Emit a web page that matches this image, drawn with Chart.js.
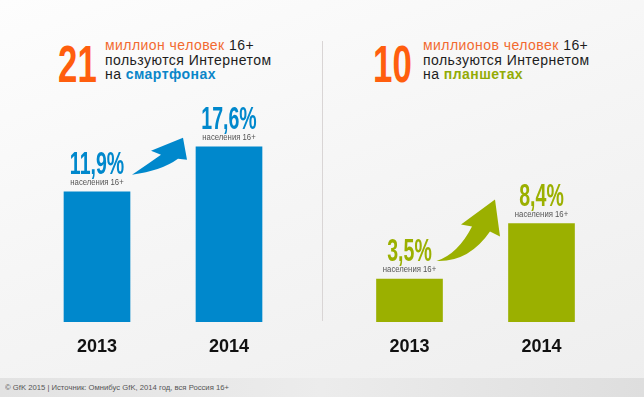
<!doctype html>
<html>

<head>
    <meta charset="utf-8">
    <title>Смартфоны и планшеты</title>
    <script src="https://cdn.jsdelivr.net/npm/chart.js@4.4.0/dist/chart.umd.min.js"></script>
    <style>
    body { margin: 0; }
    #wrap {
        position: relative; width: 644px; height: 397px; overflow: hidden;
        font-family: 'Liberation Sans', Arial, sans-serif;
        background: linear-gradient(160deg, #fdfdfd 0%, #f5f5f5 50%, #eeeeee 100%);
    }
    #foot {
        position: absolute; left: 0; top: 378px; width: 644px; height: 19px;
        background: linear-gradient(90deg, #e2e2e2 0%, #ececec 50%, #dedede 100%);
    }
    #foot span {
        position: absolute; left: 5px; top: 5px; font-size: 8px; color: #555; white-space: nowrap;
        transform: scaleX(0.96); transform-origin: left top;
    }
    #divider {
        position: absolute; left: 322px; top: 41px; width: 1px; height: 280px; background: #d9d5d5;
    }
    canvas { position: absolute; top: 0; }
    .big {
        position: absolute; top: 38px; font-size: 52px; line-height: 52px; font-weight: bold;
        color: #ff5e0e; transform: scaleX(0.67); transform-origin: left top;
    }
    .head {
        position: absolute; top: 38px; font-size: 14px; line-height: 14.5px; color: #1d1d1d;
        letter-spacing: 0.45px; white-space: nowrap;
    }
    .head .o { color: #f26a30; }
    .head .b { color: #0a86c9; font-weight: bold; }
    .head .g { color: #93ab05; font-weight: bold; }
    </style>
</head>

<body>
    <div id="wrap">
        <div id="foot"><span>© GfK 2015 | Источник: Омнибус GfK, 2014 год, вся Россия 16+</span></div>
        <div id="divider"></div>
        <div class="big" style="left:58px;">21</div>
        <div class="head" style="left:105px;"><span class="o">миллион человек</span> 16+<br>пользуются Интернетом<br>на <span class="b">смартфонах</span></div>
        <div class="big" style="left:373px;">10</div>
        <div class="head" style="left:423px;"><span class="o">миллионов человек</span> 16+<br>пользуются Интернетом<br>на <span class="g">планшетах</span></div>
        <canvas id="phones" width="322" height="397" style="left:0;"></canvas>
        <canvas id="tablets" width="322" height="397" style="left:322px;"></canvas>
    </div>
    <script>
    // data
    var years = ['2013', '2014'];
    var smartphoneShare = [11.9, 17.6];   // % of population 16+
    var tabletShare = [3.5, 8.4];
    var subLabel = 'населения 16+';

    var BLUE = '#0088cc';
    var GREEN = '#9bb000';

    // value labels + the swoosh arrow between the two bars
    var labelPlugin = {
        id: 'barLabels',
        afterDatasetsDraw: function(chart, args, opts) {
            var ctx = chart.ctx;
            var ds = chart.data.datasets[0];
            var bars = chart.getDatasetMeta(0).data;
            bars.forEach(function(bar, i) {
                var txt = ds.data[i].toFixed(1).replace('.', ',') + '%';
                ctx.save();
                ctx.translate(bar.x, bar.y - 18);
                ctx.scale(0.63, 1);
                ctx.font = 'bold 31px "Liberation Sans", Arial';
                ctx.textAlign = 'center';
                ctx.textBaseline = 'alphabetic';
                ctx.fillStyle = ds.backgroundColor;
                ctx.fillText(txt, 0, 0);
                ctx.restore();

                ctx.save();
                ctx.translate(bar.x, bar.y - 6.5);
                ctx.scale(0.86, 1);
                ctx.font = '9px "Liberation Sans", Arial';
                ctx.textAlign = 'center';
                ctx.fillStyle = '#555';
                ctx.fillText(subLabel, 0, 0);
                ctx.restore();
            });

            // arrow, positioned from the bars
            var a = opts.arrow;
            var T = { x: bars[0].x + a.tail[0], y: bars[0].y + a.tail[1] };
            var P = { x: bars[1].x + a.tip[0], y: bars[1].y + a.tip[1] };
            function rel(o, d) { return { x: o.x + d[0], y: o.y + d[1] }; }
            var lw = rel(P, a.lw), ln = rel(P, a.ln), rn = rel(P, a.rn), rw = rel(P, a.rw);
            var cLow = rel(T, a.cLow), cUp = rel(T, a.cUp);
            ctx.save();
            ctx.fillStyle = ds.backgroundColor;
            ctx.beginPath();
            ctx.moveTo(T.x, T.y);
            ctx.quadraticCurveTo(cLow.x, cLow.y, rn.x, rn.y);
            ctx.lineTo(rw.x, rw.y);
            ctx.lineTo(P.x, P.y);
            ctx.lineTo(lw.x, lw.y);
            ctx.lineTo(ln.x, ln.y);
            ctx.quadraticCurveTo(cUp.x, cUp.y, T.x, T.y);
            ctx.closePath();
            ctx.fill();
            ctx.restore();
        }
    };

    function makeChart(id, values, color, yMin, yMax, padLeft, padRight, arrow) {
        var ctx = document.getElementById(id).getContext('2d');
        return new Chart(ctx, {
            type: 'bar',
            data: {
                labels: years,
                datasets: [{
                    data: values,
                    backgroundColor: color,
                    base: yMin,
                    barThickness: 66
                }]
            },
            options: {
                responsive: false,
                animation: false,
                layout: { padding: { top: 60, bottom: 35, left: padLeft, right: padRight } },
                plugins: {
                    legend: { display: false },
                    tooltip: { enabled: false },
                    barLabels: { arrow: arrow }
                },
                scales: {
                    x: {
                        grid: { display: false, drawTicks: false },
                        border: { display: false },
                        ticks: {
                            padding: 14,
                            color: '#111',
                            font: { family: '"Liberation Sans", Arial', size: 18, weight: 'bold' }
                        },
                        afterFit: function(scale) { scale.height = 40; }
                    },
                    y: { display: false, min: yMin, max: yMax }
                }
            },
            plugins: [labelPlugin]
        });
    }

    makeChart('phones', smartphoneShare, BLUE, -4.6, 28.6, 31, 27, {
        tail: [35, -17], tip: [-46, -9],
        lw: [-32, 13], ln: [-22, 17], rn: [-5, 21], rw: [4, 22],
        cLow: [29.5, -4], cUp: [15.6, -10.5]
    });
    makeChart('tablets', tabletShare, GREEN, -0.3, 22.85, 21.5, 36.5, {
        tail: [27, -18], tip: [-46.5, -24],
        lw: [-34, 25], ln: [-23, 27], rn: [-5, 32], rw: [5, 37],
        cLow: [32.3, 1.3], cUp: [21.3, -6.7]
    });
    </script>
</body>

</html>
